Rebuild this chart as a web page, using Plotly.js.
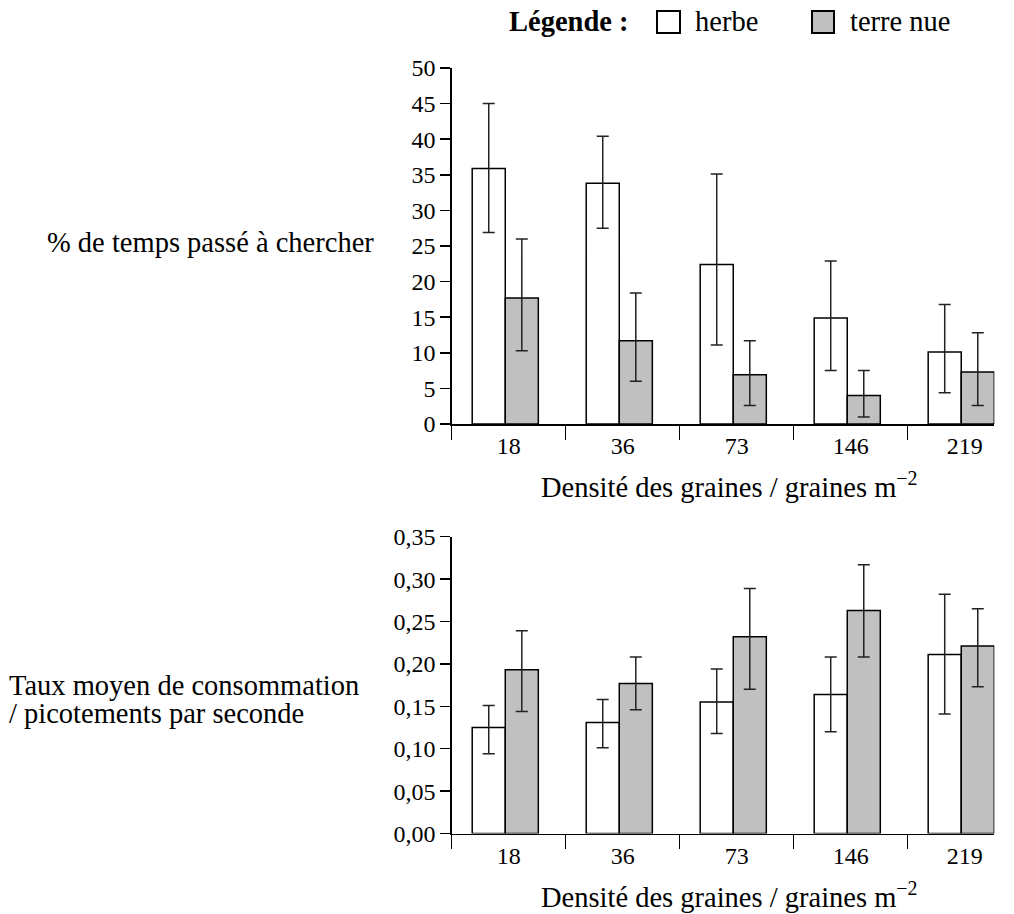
<!DOCTYPE html>
<html>
<head>
<meta charset="utf-8">
<script src="https://cdn.plot.ly/plotly-3.0.1.min.js"></script>
<style>html,body{margin:0;padding:0;background:#fff;}#chart{width:1014px;height:914px;}</style>
</head>
<body>
<div id="chart"></div>
<script>
// ---- data ----
const categories = ["18", "36", "73", "146", "219"];

// % de temps passé à chercher
const timeHerbe = [35.9, 33.8, 22.4, 14.9, 10.1];
const timeHerbeHigh = [45.0, 40.4, 35.1, 22.9, 16.8];
const timeHerbeLow = [26.9, 27.5, 11.1, 7.5, 4.4];
const timeTerre = [17.7, 11.7, 6.9, 4.0, 7.3];
const timeTerreHigh = [26.0, 18.4, 11.7, 7.5, 12.8];
const timeTerreLow = [10.3, 6.0, 2.6, 1.0, 2.6];

// Taux moyen de consommation
const rateHerbe = [0.125, 0.131, 0.155, 0.164, 0.211];
const rateHerbeHigh = [0.151, 0.158, 0.194, 0.208, 0.282];
const rateHerbeLow = [0.094, 0.101, 0.118, 0.120, 0.141];
const rateTerre = [0.193, 0.177, 0.232, 0.263, 0.221];
const rateTerreHigh = [0.239, 0.208, 0.289, 0.317, 0.265];
const rateTerreLow = [0.144, 0.146, 0.170, 0.208, 0.173];

const yTicksTop = [0, 5, 10, 15, 20, 25, 30, 35, 40, 45, 50];
const yTicksBottom = [0, 0.05, 0.10, 0.15, 0.20, 0.25, 0.30, 0.35];

const seriesNames = ["herbe", "terre nue"];
const xTitle = "Densité des graines / graines m<sup>−2</sup>";

// ---- helpers ----
const W = 1014, H = 914;
const px = v => v / W;
const py = v => 1 - v / H;
const diff = (a, b) => a.map((v, i) => +(v - b[i]).toFixed(4));
const SERIF = "Liberation Serif, Times New Roman, serif";

function barTrace(name, y, hi, lo, xa, ya, fill, offset) {
  return {
    type: "bar", name: name, x: categories, y: y,
    xaxis: xa, yaxis: ya, offset: offset, width: 0.29,
    marker: {color: fill, line: {color: "#000", width: 1.5}},
    error_y: {type: "data", symmetric: false, array: diff(hi, y), arrayminus: diff(y, lo),
              color: "#222", thickness: 1.5, width: 6},
    showlegend: false, hoverinfo: "skip"
  };
}

const data = [
  barTrace(seriesNames[0], timeHerbe, timeHerbeHigh, timeHerbeLow, "x", "y", "#ffffff", -0.32),
  barTrace(seriesNames[1], timeTerre, timeTerreHigh, timeTerreLow, "x", "y", "#c0c0c0", -0.03),
  barTrace(seriesNames[0], rateHerbe, rateHerbeHigh, rateHerbeLow, "x2", "y2", "#ffffff", -0.32),
  barTrace(seriesNames[1], rateTerre, rateTerreHigh, rateTerreLow, "x2", "y2", "#c0c0c0", -0.03)
];

const xDomain = [px(451.7), px(994.3)];
function xAxis(anchor) {
  return {
    domain: xDomain, anchor: anchor, type: "category", range: [-0.5, 4.26],
    showline: true, linecolor: "#000", linewidth: 1.5, showgrid: false, zeroline: false,
    ticks: "outside", tickson: "boundaries", ticklen: 14, tickwidth: 1.5, tickcolor: "#000",
    tickfont: {family: SERIF, size: 24, color: "#000"}, automargin: false, fixedrange: true
  };
}
function yAxis(anchor, domain, range, tickvals, fmt) {
  return {
    domain: domain, anchor: anchor, range: range, tickvals: tickvals, tickformat: fmt,
    showline: true, linecolor: "#000", linewidth: 1.5, showgrid: false, zeroline: false,
    ticks: "outside", ticklen: 10, tickwidth: 1.5, tickcolor: "#000",
    tickfont: {family: SERIF, size: 24, color: "#000"}, automargin: false, fixedrange: true
  };
}

const txt = (text, x, y, xanchor, size, bold) => ({
  text: bold ? "<b>" + text + "</b>" : text, xref: "paper", yref: "paper",
  x: px(x), y: py(y), xanchor: xanchor, yanchor: "middle", showarrow: false,
  font: {family: SERIF, size: size, color: "#000"}
});

const layout = {
  width: W, height: H, margin: {l: 0, r: 0, t: 0, b: 0},
  paper_bgcolor: "#fff", plot_bgcolor: "#fff",
  separators: ", ", barmode: "overlay", showlegend: false,
  xaxis: xAxis("y"),
  yaxis: yAxis("x", [py(424), py(68)], [0, 50], yTicksTop, "d"),
  xaxis2: xAxis("y2"),
  yaxis2: yAxis("x2", [py(833.5), py(536.7)], [0, 0.35], yTicksBottom, ".2f"),
  annotations: [
    txt("Légende :", 507, 22, "left", 28.5, true),
    txt(seriesNames[0], 693, 22, "left", 28.5, false),
    txt(seriesNames[1], 848, 22, "left", 28.5, false),
    txt("% de temps passé à chercher", 376, 242, "right", 28.5, false),
    txt("Taux moyen de consommation", 7, 685, "left", 28.5, false),
    txt("/ picotements par seconde", 7, 713, "left", 28.5, false),
    txt(xTitle, 729, 485, "center", 28.5, false),
    txt(xTitle, 729, 894.5, "center", 28.5, false)
  ],
  shapes: [
    {type: "rect", xref: "paper", yref: "paper", x0: px(657), x1: px(680), y0: py(33), y1: py(11),
     fillcolor: "#ffffff", line: {color: "#000", width: 2}},
    {type: "rect", xref: "paper", yref: "paper", x0: px(812), x1: px(834), y0: py(33), y1: py(11),
     fillcolor: "#c0c0c0", line: {color: "#000", width: 2}}
  ]
};

Plotly.newPlot("chart", data, layout, {displayModeBar: false, staticPlot: true});
</script>
</body>
</html>
